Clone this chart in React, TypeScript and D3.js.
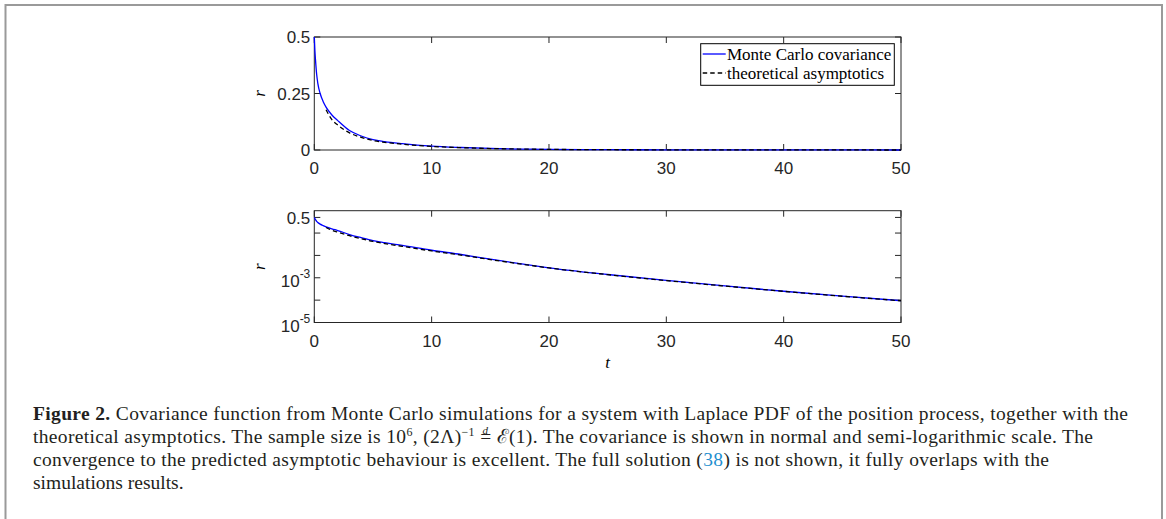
import * as d3 from 'd3';

// values
const mcT = [0, 0.05, 0.1, 0.2, 0.3, 0.5, 0.75, 1, 1.5, 2, 3, 4, 5, 6, 7.5, 10, 12.5, 15, 17.5, 20, 25, 30, 35, 40, 45, 50];
const mcR = [0.5, 0.44, 0.4, 0.335, 0.295, 0.25, 0.215, 0.19, 0.155, 0.13, 0.086, 0.062, 0.046, 0.037, 0.028, 0.017, 0.011, 0.0068, 0.0043, 0.0028, 0.0014, 0.00076, 0.00043, 0.00025, 0.00015, 0.000095];

const asT = [1, 1.5, 2, 3, 4, 5, 6, 7.5, 10, 12.5, 15, 17.5, 20, 25, 30, 35, 40, 45, 50];
const asR = [0.178, 0.134, 0.11, 0.076, 0.056, 0.042, 0.034, 0.0255, 0.0158, 0.0104, 0.0065, 0.0042, 0.00275, 0.00138, 0.00075, 0.000425, 0.000248, 0.000149, 0.000094];

const xTicks = [0, 10, 20, 30, 40, 50];
const linTicks = [0, 0.25, 0.5];
const logTicks = [1e-5, 1e-4, 1e-3, 1e-2, 1e-1, 0.5];
const logLabels: Record<string, [string, string]> = { '0.00001': ['10', '-5'], '0.001': ['10', '-3'], '0.5': ['0.5', ''] };
const legendItems = ['Monte Carlo covariance', 'theoretical asymptotics'];

const axisColor = '#262626';
const sans = 'Liberation Sans, Arial, sans-serif';
const serif = 'Liberation Serif, Times New Roman, serif';

const left = 314.3;
const right = 901;
const top1 = 37;
const bot1 = 150;
const top2 = 210.7;
const bot2 = 322.5;

const x = d3.scaleLinear().domain([0, 50]).range([left, right]);
const yLin = d3.scaleLinear().domain([0, 0.5]).range([bot1, top1]);
const yLog = d3.scaleLog().domain([1e-5, 1]).range([bot2, top2]);

const mc = mcT.map((t, i) => ({ t, r: mcR[i] }));
const as = asT.map((t, i) => ({ t, r: asR[i] }));

function Frame({ y0, y1, yTicks, yScale }: { y0: number; y1: number; yTicks: number[]; yScale: (v: number) => number }) {
  const tl = 6;
  return (
    <g>
      <rect x={left} y={y0} width={right - left} height={y1 - y0} fill="none" stroke={axisColor} strokeWidth={1} />
      {xTicks.map(t => (
        <g key={'x' + t}>
          <line x1={x(t)} x2={x(t)} y1={y1} y2={y1 - tl} stroke={axisColor} />
          <line x1={x(t)} x2={x(t)} y1={y0} y2={y0 + tl} stroke={axisColor} />
          <text x={x(t)} y={y1 + 24} textAnchor="middle" fontFamily={sans} fontSize={17} fill={axisColor}>{t}</text>
        </g>
      ))}
      {yTicks.map(v => (
        <g key={'y' + v}>
          <line x1={left} x2={left + tl} y1={yScale(v)} y2={yScale(v)} stroke={axisColor} />
          <line x1={right} x2={right - tl} y1={yScale(v)} y2={yScale(v)} stroke={axisColor} />
        </g>
      ))}
    </g>
  );
}

export default function App() {
  const lineLin = d3.line<{ t: number; r: number }>().x(d => x(d.t)).y(d => yLin(d.r)).curve(d3.curveMonotoneX);
  const lineLog = d3.line<{ t: number; r: number }>().x(d => x(d.t)).y(d => yLog(d.r)).curve(d3.curveMonotoneX);
  const dash = '4.5,3';

  return (
    <svg width={1166} height={519} style={{ position: 'absolute', left: 0, top: 0, background: '#fff' }}>
      <rect x={5.5} y={5} width={1156.5} height={600} fill="none" stroke="#9a9a9a" strokeWidth={2} />

      {/* top panel, linear */}
      <Frame y0={top1} y1={bot1} yTicks={linTicks} yScale={yLin} />
      {linTicks.map(v => (
        <text key={v} x={left - 4} y={yLin(v)} dy="0.36em" textAnchor="end" fontFamily={sans} fontSize={17} fill={axisColor}>{v}</text>
      ))}
      <path d={lineLin(mc) || ''} fill="none" stroke="#0000ff" strokeWidth={1.3} />
      <path d={lineLin(as) || ''} fill="none" stroke="#000" strokeWidth={1.3} strokeDasharray={dash} />
      <text transform={`translate(265,${(top1 + bot1) / 2}) rotate(-90)`} textAnchor="middle" fontFamily={serif} fontStyle="italic" fontSize={17}>r</text>

      <g>
        <rect x={700.7} y={43.7} width={193.6} height={41.6} fill="#fff" stroke="#000" strokeWidth={1} />
        {legendItems.map((s, i) => (
          <g key={s}>
            <line x1={702.7} x2={725.7} y1={54 + i * 19} y2={54 + i * 19} stroke={i === 0 ? '#0000ff' : '#000'} strokeWidth={1.3} strokeDasharray={i === 0 ? undefined : dash} />
            <text x={727} y={59.5 + i * 19} fontFamily={serif} fontSize={17} fill="#000">{s}</text>
          </g>
        ))}
      </g>

      {/* bottom panel, semi-log */}
      <Frame y0={top2} y1={bot2} yTicks={logTicks} yScale={yLog} />
      {logTicks.filter(v => logLabels[String(v)]).map(v => {
        const [base, sup] = logLabels[String(v)];
        return (
          <text key={v} x={left - 4} y={yLog(v)} dy={sup ? '0.55em' : '0.36em'} textAnchor="end" fontFamily={sans} fontSize={17} fill={axisColor}>
            {base}
            {sup && <tspan dy="-0.75em" fontSize={12}>{sup}</tspan>}
          </text>
        );
      })}
      <path d={lineLog(mc) || ''} fill="none" stroke="#0000ff" strokeWidth={1.3} />
      <path d={lineLog(as) || ''} fill="none" stroke="#000" strokeWidth={1.3} strokeDasharray={dash} />
      <text transform={`translate(265,${(top2 + bot2) / 2}) rotate(-90)`} textAnchor="middle" fontFamily={serif} fontStyle="italic" fontSize={17}>r</text>
      <text x={(left + right) / 2} y={368} textAnchor="middle" fontFamily={serif} fontStyle="italic" fontSize={17}>t</text>

      {/* caption */}
      <g fontFamily={serif} fontSize={19.5} fill="#231f20">
        <text x={33} y={420} textLength={1095} lengthAdjust="spacing">
          <tspan fontWeight="bold">Figure 2.</tspan> Covariance function from Monte Carlo simulations for a system with Laplace PDF of the position process, together with the
        </text>
        <text x={33} y={443} textLength={1060} lengthAdjust="spacing">
          theoretical asymptotics. The sample size is 10<tspan dy={-7} fontSize={12}>6</tspan><tspan dy={7}>, (2Λ)</tspan><tspan dy={-7} fontSize={12}>−1</tspan><tspan dy={7}> =</tspan><tspan dx={-9} dy={-9} fontSize={11} fontStyle="italic">d</tspan><tspan dx={3} dy={9}> ℰ(1). The covariance is shown in normal and semi-logarithmic scale. The</tspan>
        </text>
        <text x={33} y={466} textLength={1016} lengthAdjust="spacing">
          convergence to the predicted asymptotic behaviour is excellent. The full solution (<tspan fill="#1f8fcf">38</tspan>) is not shown, it fully overlaps with the
        </text>
        <text x={33} y={489}>simulations results.</text>
      </g>
    </svg>
  );
}
